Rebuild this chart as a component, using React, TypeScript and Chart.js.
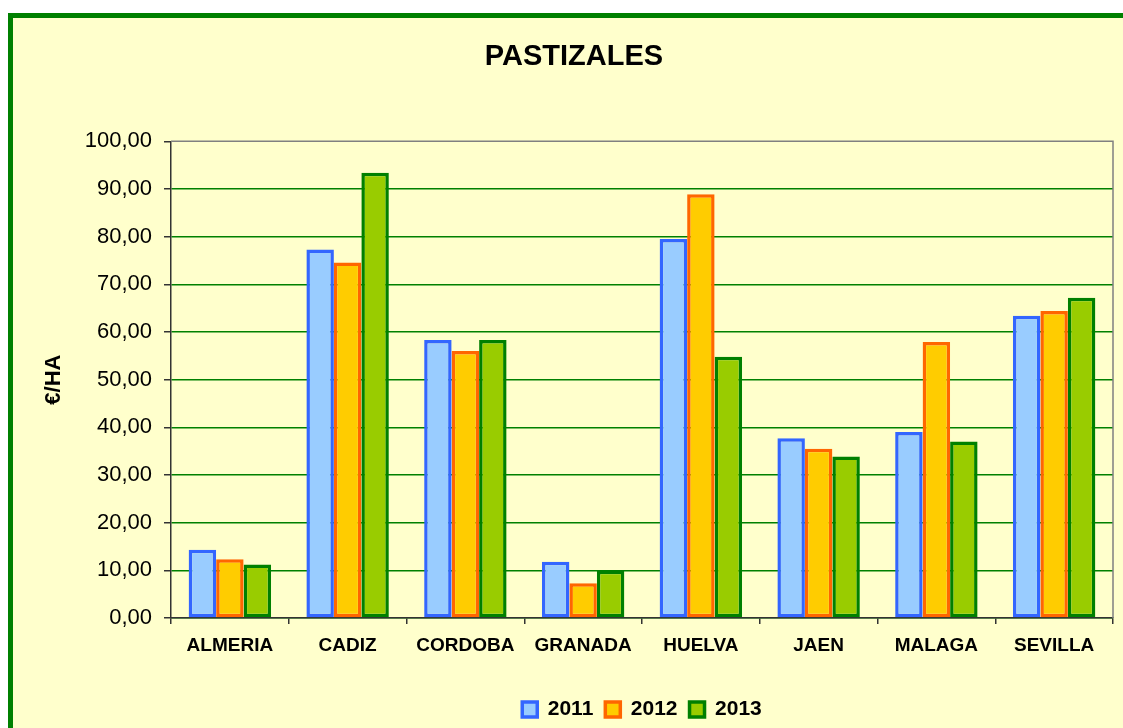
import React, { useEffect, useRef } from "react";
import { Chart, registerables } from "chart.js";

Chart.register(...registerables);

const categories = ["ALMERIA", "CADIZ", "CORDOBA", "GRANADA", "HUELVA", "JAEN", "MALAGA", "SEVILLA"];
const seriesLabels = ["2011", "2012", "2013"];
const values2011 = [14.3, 77.3, 58.3, 11.8, 79.5, 37.7, 39.0, 63.4];
const values2012 = [12.3, 74.6, 56.0, 7.3, 88.9, 35.5, 57.9, 64.4];
const values2013 = [11.2, 93.4, 58.3, 9.9, 54.8, 33.9, 37.0, 67.2];
const fills = ["#99CCFF", "#FFCC00", "#99CC00"];
const borders = ["#3366FF", "#FF6600", "#008000"];
const yMin = 0;
const yMax = 100;
const yStep = 10;

const FONT = "'Liberation Sans', Arial, Helvetica, sans-serif";

const plotBorder = {
  id: "plotBorder",
  beforeDatasetsDraw(chart: any) {
    const { ctx, chartArea } = chart;
    ctx.save();
    ctx.strokeStyle = "#808080";
    ctx.lineWidth = 1.5;
    ctx.beginPath();
    ctx.moveTo(chartArea.left, chartArea.top);
    ctx.lineTo(chartArea.right, chartArea.top);
    ctx.lineTo(chartArea.right, chartArea.bottom);
    ctx.stroke();
    ctx.restore();
  },
};

const legendShift = {
  id: "legendShift",
  afterLayout(chart: any) {
    const lg = chart.legend;
    if (!lg) return;
    const ca = chart.chartArea;
    const dx = (ca.left + ca.right) / 2 - (lg.left + lg.right) / 2;
    lg.left += dx;
    lg.right += dx;
  },
};

export default function App() {
  const ref = useRef<HTMLCanvasElement | null>(null);

  useEffect(() => {
    if (!ref.current) return;
    const data = [values2011, values2012, values2013];
    const chart = new Chart(ref.current, {
      type: "bar",
      data: {
        labels: categories,
        datasets: seriesLabels.map((lab, i) => ({
          label: lab,
          data: data[i],
          backgroundColor: fills[i],
          borderColor: borders[i],
          borderWidth: 3.5,
          borderSkipped: false,
          categoryPercentage: 0.7,
          barPercentage: 1.0,
        })),
      },
      options: {
        animation: false,
        responsive: false,
        maintainAspectRatio: false,
        layout: { padding: { left: 22, right: 20, top: 0, bottom: 8 } },
        plugins: {
          title: {
            display: true,
            text: "PASTIZALES",
            color: "#000",
            font: { family: FONT, size: 29, weight: "bold" },
            padding: { top: 22, bottom: 66.5 },
          },
          legend: {
            position: "bottom",
            labels: {
              color: "#000",
              boxWidth: 15,
              boxHeight: 15,
              padding: 12,
              font: { family: FONT, size: 21, weight: "bold" },
            },
          },
          tooltip: { enabled: false },
        },
        scales: {
          x: {
            grid: {
              display: true,
              drawOnChartArea: false,
              drawTicks: true,
              offset: true,
              tickLength: 6,
              tickColor: "#333",
              lineWidth: 1.5,
            },
            border: { display: true, color: "#333", width: 1.5 },
            ticks: {
              color: "#000",
              padding: 10,
              font: { family: FONT, size: 19, weight: "bold" },
            },
            afterFit(scale: any) {
              scale.height = 69;
            },
          },
          y: {
            min: yMin,
            max: yMax,
            ticks: {
              stepSize: yStep,
              color: "#000",
              padding: 12,
              font: { family: FONT, size: 22 },
              callback: (v: any) => Number(v).toFixed(2).replace(".", ","),
            },
            grid: {
              color: (ctx: any) => (ctx.tick && ctx.tick.value === yMax ? "rgba(0,0,0,0)" : "#008000"),
              lineWidth: 1.5,
              tickLength: 7,
              tickColor: "#333",
            },
            border: { display: true, color: "#333", width: 1.5 },
            title: {
              display: true,
              text: "€/HA",
              color: "#000",
              font: { family: FONT, size: 22, weight: "bold" },
              padding: { top: 6, bottom: 0 },
            },
            afterFit(scale: any) {
              scale.width = 136;
            },
          },
        },
      },
      plugins: [plotBorder, legendShift],
    });
    return () => chart.destroy();
  }, []);

  return (
    <div style={{ position: "fixed", left: 0, top: 0, width: 1123, height: 728, overflow: "hidden", background: "#fff" }}>
      <div
        style={{
          position: "absolute",
          left: 8,
          top: 13,
          width: 1120,
          height: 740,
          border: "5px solid #008000",
          background: "#FFFFCC",
        }}
      >
        <canvas ref={ref} width={1120} height={720} style={{ display: "block", width: 1120, height: 720 }} />
      </div>
    </div>
  );
}
